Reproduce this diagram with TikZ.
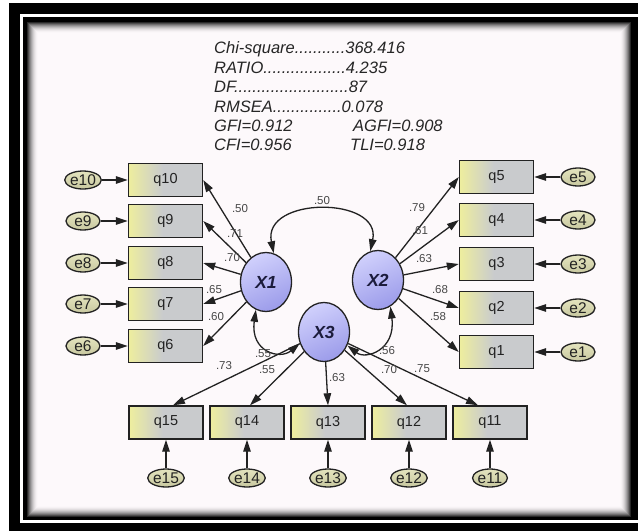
\documentclass[tikz,border=0pt]{standalone}
\usepackage{fontspec}
\setmainfont{Liberation Sans}
\usetikzlibrary{arrows.meta,shapes.geometric}
\definecolor{ylw}{HTML}{EEEE9E}
\definecolor{gry}{HTML}{C9CBCD}
\definecolor{pagec}{HTML}{FDF9FB}
\definecolor{lattop}{HTML}{D0D0FC}
\definecolor{latbot}{HTML}{9C9CEA}
\definecolor{errtop}{HTML}{E4E4BE}
\definecolor{errbot}{HTML}{C8C8A0}
\definecolor{ink}{HTML}{222222}
\definecolor{latink}{HTML}{1C1C3C}
\pgfdeclarehorizontalshading{boxshade}{100bp}{color(0bp)=(ylw); color(25bp)=(ylw); color(48bp)=(gry); color(100bp)=(gry)}
\begin{document}
\begin{tikzpicture}[x=1pt,y=-1pt,
  obs/.style={rectangle, draw=ink, line width=1.4pt, minimum width=74pt, minimum height=33pt, shading=boxshade, font=\fontsize{14.5}{15}\selectfont, text=ink, inner sep=0pt},
  err/.style={ellipse, draw=ink, line width=1.3pt, minimum width=34pt, minimum height=18pt, inner sep=0pt, top color=errtop, bottom color=errbot, font=\fontsize{15.5}{15}\selectfont, text=ink},
  lat/.style={ellipse, draw=ink, line width=1.3pt, minimum width=51pt, minimum height=59pt, inner sep=0pt, top color=lattop, bottom color=latbot, shading angle=25, font=\bfseries\itshape\fontsize{17.5}{18}\selectfont, text=latink},
  arr/.style={draw=ink, line width=1.3pt, -{Triangle[length=12pt,width=7.5pt]}},
  cov/.style={draw=ink, line width=1.3pt, {Triangle[length=12pt,width=7.5pt]}-{Triangle[length=12pt,width=7.5pt]}},
  lbl/.style={font=\fontsize{11.5}{11}\selectfont, text=black!72, inner sep=0pt},
  stat/.style={font=\itshape\fontsize{16.5}{16}\selectfont, text=black!85, anchor=base west, inner sep=0pt}]
\useasboundingbox (0,0) rectangle (638,531);
\fill[white] (0,0) rectangle (638,531);
% frame
\fill[black] (9,3) rectangle (638,531);
\fill[white] (20,14) rectangle (638,523);
\fill[black] (23,17) rectangle (638,520);
\fill[pagec] (26,21) rectangle (632,518);
\foreach \i in {0,...,11}{
  \pgfmathsetmacro\op{(1-\i/12)^2}
  \draw[line width=1pt, black, opacity=\op] (26.5+\i,21.5+\i) rectangle (631.5-\i,517.5-\i);
}
% fit statistics
\node[stat] (s1) at (214,53) {Chi-square...........368.416};
\node[stat] (s2) at (214,73) {RATIO..................4.235};
\node[stat] (s3) at (214,92) {DF.........................87};
\node[stat] (s4) at (214,112) {RMSEA...............0.078};
\node[stat] (s5) at (214,131) {GFI=0.912};
\node[stat] (s6) at (353,131) {AGFI=0.908};
\node[stat] (s7) at (214,150) {CFI=0.956};
\node[stat] (s8) at (350,150) {TLI=0.918};
% latent
\node[lat] (X1) at (266,282) {X1};
\node[lat] (X2) at (378,280) {X2};
\node[lat] (X3) at (324,332) {X3};
% left boxes
\foreach \n/\y in {10/180,9/221,8/263,7/304,6/346}{
  \node[obs] (q\n) at (165.5,\y) {q\n};
  \node[err] (e\n) at (83,\y) {e\n};
  \draw[arr] (e\n) -- (q\n);
  \draw[arr] (X1) -- (q\n.east);
}
% right boxes
\foreach \n/\y in {5/177,4/220,3/264,2/308,1/352}{
  \node[obs] (q\n) at (496.5,\y) {q\n};
  \node[err] (e\n) at (578,\y) {e\n};
  \draw[arr] (e\n) -- (q\n);
  \draw[arr] (X2) -- (q\n.west);
}
% bottom boxes
\foreach \n/\x/\s in {15/166/7,14/247/3,13/328/0,12/409/-2,11/490/-12}{
  \node[obs] (q\n) at (\x,422.5) {q\n};
  \node[err] (e\n) at (\x,478) {e\n};
  \draw[arr] (e\n) -- (q\n);
  \draw[arr] (X3) -- ([xshift=\s pt]q\n.north);
}
% covariances
\draw[cov] (X1.75) .. controls (262,196) and (382,196) .. (X2.105);
\draw[cov] (X1.250) .. controls (250,352) and (280,360) .. (X3.205);
\draw[cov] (X2.295) .. controls (396,350) and (366,360) .. (X3.330);
% labels
\node[lbl] (c12) at (322,201) {.50};
\node[lbl] (c13) at (263,354) {.55};
\node[lbl] (c23) at (387,351) {.56};
\node[lbl] (l10) at (240,209) {.50};
\node[lbl] (l9) at (235,234) {.71};
\node[lbl] (l8) at (232,258) {.70};
\node[lbl] (l7) at (214,290) {.65};
\node[lbl] (l6) at (216,317) {.60};
\node[lbl] (l5) at (417,208) {.79};
\node[lbl] (l4) at (420,231) {.61};
\node[lbl] (l3) at (424,259) {.63};
\node[lbl] (l2) at (440,290) {.68};
\node[lbl] (l1) at (438,317) {.58};
\node[lbl] (l15) at (224,366) {.73};
\node[lbl] (l14) at (267,370) {.55};
\node[lbl] (l13) at (337,378) {.63};
\node[lbl] (l12) at (389,370) {.70};
\node[lbl] (l11) at (422,369) {.75};
\end{tikzpicture}
\end{document}
